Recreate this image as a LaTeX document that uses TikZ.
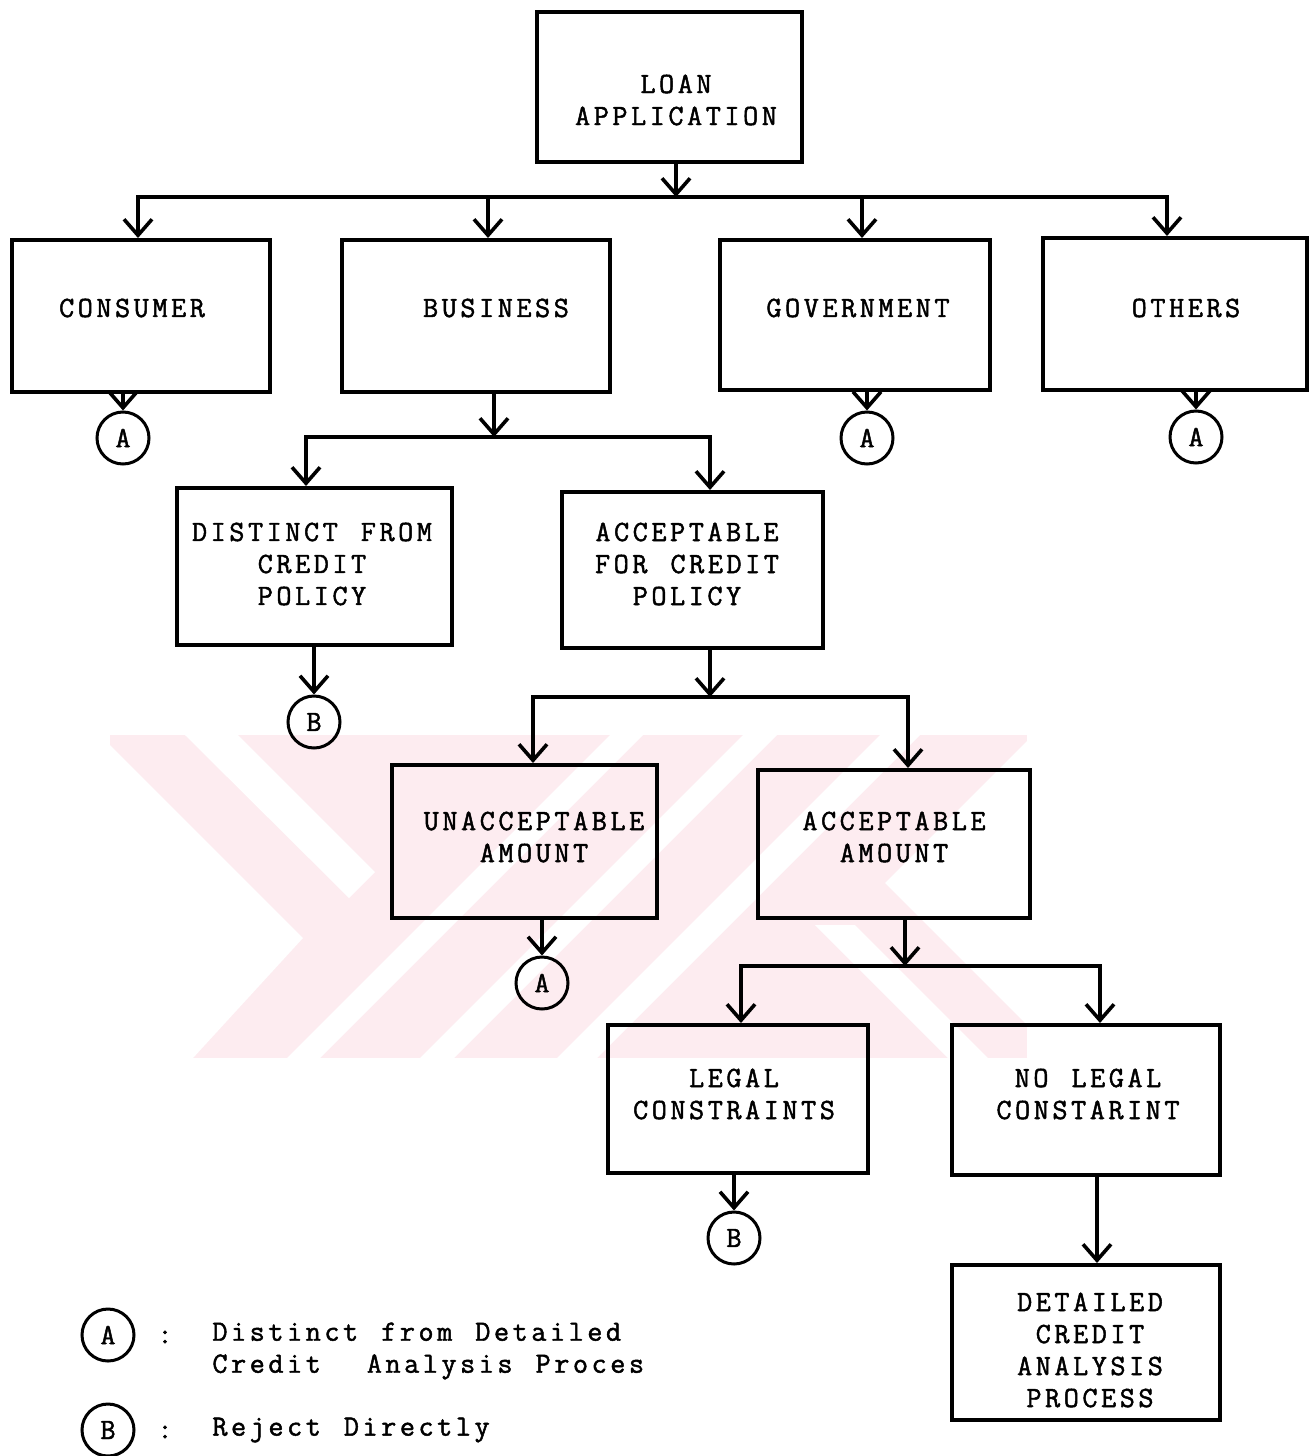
\documentclass[tikz,border=0pt]{standalone}
\usepackage{fontspec}
\newfontfamily\tw{Latin Modern Mono}[LetterSpace=12,WordSpace=1.23,FakeBold=1.6]
\usetikzlibrary{arrows.meta,calc}
\definecolor{wm}{RGB}{253,236,240}
\begin{document}
\begin{tikzpicture}[x=0.5pt,y=-0.5pt,
  box/.style={draw, line width=2pt, inner sep=0pt},
  txt/.style={font=\tw\fontsize{14.7}{16}\selectfont, align=center, inner sep=0pt},
  circ/.style={draw, circle, line width=1.5pt, minimum size=26pt, inner sep=0pt, font=\tw\fontsize{14.7}{16}\selectfont},
  arr/.style={line width=1.8pt, -{Straight Barb[length=8pt,width=14pt]}},
  ln/.style={line width=1.8pt}]
\useasboundingbox (0,0) rectangle (1314,1456);
\fill[white] (0,0) rectangle (1314,1456);
% watermark
\fill[wm] (110,735) rectangle (1027,1058);
\fill[white] (110,745) -- (303,938) -- (193,1058) -- (110,1058) -- cycle;
\fill[white] (185,735) -- (238,735) -- (375,872) -- (349,898) -- cycle;
\fill[white] (610,735) -- (643,735) -- (320,1058) -- (287,1058) -- cycle;
\fill[white] (743,735) -- (777,735) -- (454,1058) -- (420,1058) -- cycle;
\fill[white] (880,735) -- (920,735) -- (597,1058) -- (557,1058) -- cycle;
\fill[white] (885,883) -- (1027,741) -- (1027,1025) -- cycle;
\fill[white] (815,925) -- (855,925) -- (988,1058) -- (948,1058) -- cycle;

% boxes
\node[box, minimum width=132.5pt, minimum height=75pt] (loan) at (669.5,87) {};
\node[box, minimum width=129pt, minimum height=76pt] (consumer) at (141,316) {};
\node[box, minimum width=134pt, minimum height=76pt] (business) at (476,316) {};
\node[box, minimum width=135pt, minimum height=75pt] (government) at (855,315) {};
\node[box, minimum width=132pt, minimum height=76pt] (others) at (1175,314) {};
\node[box, minimum width=137.5pt, minimum height=78.5pt] (distinct) at (314.5,566.5) {};
\node[box, minimum width=130.5pt, minimum height=78pt] (acceptcp) at (692.5,570) {};
\node[box, minimum width=132.5pt, minimum height=76.5pt] (unaccamt) at (524.5,841.5) {};
\node[box, minimum width=136pt, minimum height=74pt] (accamt) at (894,844) {};
\node[box, minimum width=130pt, minimum height=74pt] (legal) at (738,1099) {};
\node[box, minimum width=134pt, minimum height=75pt] (nolegal) at (1086,1100) {};
\node[box, minimum width=134pt, minimum height=77.5pt] (detailed) at (1086,1342.5) {};

% box texts
\node[txt] (t1) at (676,100) {LOAN\\APPLICATION};
\node[txt] (t2) at (132,308) {CONSUMER};
\node[txt] (t3) at (496,308) {BUSINESS};
\node[txt] (t4) at (858,308) {GOVERNMENT};
\node[txt] (t5) at (1186,308) {OTHERS};
\node[txt] (t6) at (312,564) {DISTINCT FROM\\CREDIT\\POLICY};
\node[txt] (t7) at (687,564) {ACCEPTABLE\\FOR CREDIT\\POLICY};
\node[txt] (t8) at (534,837) {UNACCEPTABLE\\AMOUNT};
\node[txt] (t9) at (894,837) {ACCEPTABLE\\AMOUNT};
\node[txt] (t10) at (734,1094) {LEGAL\\CONSTRAINTS};
\node[txt] (t11) at (1088,1094) {NO LEGAL\\CONSTARINT};
\node[txt] (t12) at (1090,1350) {DETAILED\\CREDIT\\ANALYSIS\\PROCESS};

% circles
\node[circ] (ca1) at (123,438) {A};
\node[circ] (ca2) at (867,438) {A};
\node[circ] (ca3) at (1196,437) {A};
\node[circ] (cb1) at (314,722) {B};
\node[circ] (ca4) at (542,983) {A};
\node[circ] (cb2) at (734,1238) {B};

% junctions
\coordinate (j1) at (676,197);
\coordinate (j2) at (494,437);
\coordinate (j3) at (710,697);
\coordinate (j4) at (905,966);

% connectors
\draw[arr] (loan.south -| j1) -- (j1);
\draw[arr] (j1) -| ([xshift=-1.5pt]consumer.north);
\draw[arr] (j1) -| ([xshift=6pt]business.north);
\draw[arr] (j1) -| ([xshift=3.5pt]government.north);
\draw[arr] (j1) -| ([xshift=-4pt]others.north);

\draw[arr] (consumer.south -| ca1) -- (ca1);
\draw[arr] (government.south -| ca2) -- (ca2);
\draw[arr] (others.south -| ca3) -- (ca3);

\draw[arr] (business.south -| j2) -- (j2);
\draw[arr] (j2) -| ([xshift=-4.25pt]distinct.north);
\draw[arr] (j2) -| ([xshift=8.75pt]acceptcp.north);

\draw[arr] (distinct.south -| cb1) -- (cb1);

\draw[arr] (acceptcp.south -| j3) -- (j3);
\draw[arr] (j3) -| ([xshift=4.25pt]unaccamt.north);
\draw[arr] (j3) -| ([xshift=7pt]accamt.north);

\draw[arr] (unaccamt.south -| ca4) -- (ca4);

\draw[arr] (accamt.south -| j4) -- (j4);
\draw[arr] (j4) -| ([xshift=1.5pt]legal.north);
\draw[arr] (j4) -| ([xshift=7pt]nolegal.north);

\draw[arr] (legal.south -| cb2) -- (cb2);
\draw[arr] ([xshift=5.5pt]nolegal.south) -- ([xshift=5.5pt]detailed.north);

% legend
\node[circ] (la) at (108,1335) {A};
\node[txt] (lac) at (165,1337) {:};
\node[txt, align=left, anchor=west] (lat) at (212,1351) {Distinct from Detailed\\Credit\ \ Analysis Proces};
\node[circ] (lb) at (108,1430) {B};
\node[txt] (lbc) at (165,1432) {:};
\node[txt, anchor=west] (lbt) at (212,1430) {Reject Directly};
\end{tikzpicture}
\end{document}
